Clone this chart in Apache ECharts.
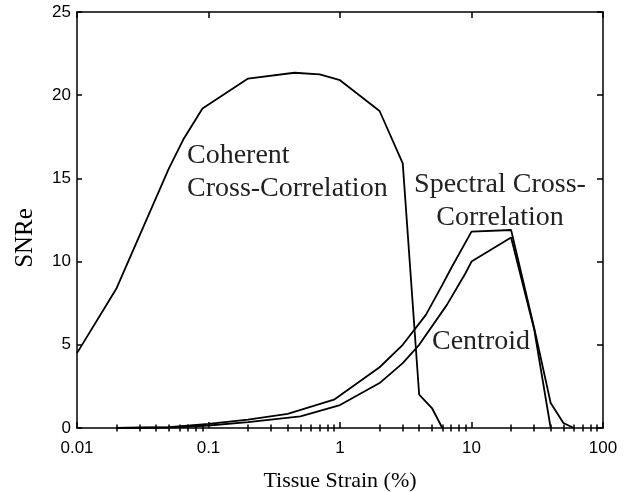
<!DOCTYPE html>
<html>
<head>
<meta charset="utf-8">
<script src="https://cdn.jsdelivr.net/npm/echarts@6/dist/echarts.min.js"></script>
<style>
  html, body { margin: 0; padding: 0; background: #fff; }
  #main { width: 636px; height: 492px; }
</style>
</head>
<body>
<div id="main"></div>
<script>
// coherent cross-correlation
var coherentX = [0.01, 0.02, 0.05, 0.065, 0.09, 0.2, 0.45, 0.7, 1, 2, 3, 4, 5, 6];
var coherentY = [4.5, 8.4, 15.6, 17.4, 19.2, 21.0, 21.35, 21.25, 20.9, 19.05, 15.9, 2.0, 1.2, 0];
// spectral cross-correlation
var spectralX = [0.02, 0.05, 0.1, 0.2, 0.4, 0.9, 2, 3, 4.5, 6, 7, 10, 20, 30, 40, 50, 60];
var spectralY = [0, 0.05, 0.25, 0.5, 0.85, 1.7, 3.65, 5.0, 6.8, 8.6, 9.6, 11.8, 11.9, 6.0, 1.5, 0.3, 0];
// centroid
var centroidX = [0.02, 0.05, 0.1, 0.2, 0.5, 1, 2, 3, 4, 6.5, 9, 10, 20, 30, 40];
var centroidY = [0, 0.03, 0.15, 0.35, 0.7, 1.38, 2.7, 3.9, 5.0, 7.4, 9.3, 10.0, 11.45, 5.9, 0];

var yTicks = [0, 5, 10, 15, 20, 25];
var xTickLabels = [0.01, 0.1, 1, 10, 100];

function zip(xs, ys) {
    var out = [];
    for (var i = 0; i < xs.length; i++) out.push([xs[i], ys[i]]);
    return out;
}

// minor ticks 2..9 of each decade
var minorTicks = [];
[0.01, 0.1, 1, 10].forEach(function (d) {
    for (var k = 2; k <= 9; k++) minorTicks.push(+(d * k).toPrecision(3));
});

var sans = 'Liberation Sans';
var serif = 'Liberation Serif';
var axisLine = { show: true, onZero: false, lineStyle: { color: '#000', width: 1.5 } };

function xAxisDef(pos, major, withLabel) {
    return {
        type: 'log',
        logBase: 10,
        position: pos,
        min: 0.01,
        max: 100,
        gridIndex: 0,
        axisLine: major ? axisLine : { show: false },
        splitLine: { show: false },
        axisTick: major ? {
            show: true, inside: true, length: 6,
            customValues: xTickLabels,
            lineStyle: { color: '#000', width: 1.5 }
        } : {
            show: true, inside: true, length: 3.5,
            customValues: minorTicks,
            lineStyle: { color: '#000', width: 1.5 }
        },
        axisLabel: withLabel ? {
            show: true, margin: 12, color: '#000', fontFamily: sans, fontSize: 17,
            customValues: xTickLabels,
            formatter: function (v) { return String(+(+v).toPrecision(3)); }
        } : { show: false },
        name: withLabel ? 'Tissue Strain (%)' : '',
        nameLocation: 'middle',
        nameGap: 42,
        nameTextStyle: { color: '#000', fontFamily: serif, fontSize: 22 }
    };
}

var myChart = echarts.init(document.getElementById('main'));
myChart.setOption({
    animation: false,
    backgroundColor: '#fff',
    grid: { left: 77, right: 33, top: 12, bottom: 64, containLabel: false, outerBoundsMode: 'none' },
    xAxis: [
        xAxisDef('bottom', true, true),
        xAxisDef('bottom', false, false),
        xAxisDef('top', true, false),
        xAxisDef('top', false, false)
    ],
    yAxis: [
        {
            type: 'value', position: 'left', min: 0, max: 25, interval: 5,
            axisLine: axisLine,
            splitLine: { show: false },
            axisTick: { show: true, inside: true, length: 5, lineStyle: { color: '#000', width: 1.5 } },
            axisLabel: { show: true, margin: 6, color: '#000', fontFamily: sans, fontSize: 17,
                customValues: yTicks },
            name: 'SNRe',
            nameLocation: 'middle',
            nameGap: 39,
            nameTextStyle: { color: '#000', fontFamily: serif, fontSize: 25, padding: [0, 36, 0, 0] }
        },
        {
            type: 'value', position: 'right', min: 0, max: 25, interval: 5,
            axisLine: axisLine,
            splitLine: { show: false },
            axisTick: { show: true, inside: true, length: 6, lineStyle: { color: '#000', width: 1.5 } },
            axisLabel: { show: false }
        }
    ],
    series: [
        { name: 'Coherent Cross-Correlation', type: 'line', data: zip(coherentX, coherentY),
          symbol: 'none', lineStyle: { color: '#000', width: 1.8 } },
        { name: 'Spectral Cross-Correlation', type: 'line', data: zip(spectralX, spectralY),
          symbol: 'none', lineStyle: { color: '#000', width: 1.8 } },
        { name: 'Centroid', type: 'line', data: zip(centroidX, centroidY),
          symbol: 'none', lineStyle: { color: '#000', width: 1.8 } }
    ],
    graphic: [
        { type: 'text', x: 187, y: 139,
          style: { text: 'Coherent\nCross-Correlation', font: '28px "Liberation Serif"', fill: '#222', lineHeight: 33 } },
        { type: 'text', x: 500, y: 168,
          style: { text: 'Spectral Cross-\nCorrelation', font: '28px "Liberation Serif"', fill: '#222',
                   lineHeight: 33, align: 'center' } },
        { type: 'text', x: 432, y: 328,
          style: { text: 'Centroid', font: '28px "Liberation Serif"', fill: '#222' } }
    ]
});
</script>
</body>
</html>
